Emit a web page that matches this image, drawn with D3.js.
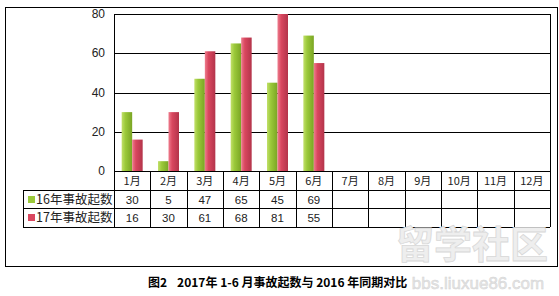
<!DOCTYPE html>
<html>
<head>
<meta charset="utf-8">
<script src="https://cdnjs.cloudflare.com/ajax/libs/d3/7.8.5/d3.min.js"></script>
<style>
  body { margin: 0; background: #fff; }
  svg { display: block; font-family: "Liberation Sans", Arial, sans-serif; }
</style>
</head>
<body>
<svg id="chart" width="559" height="296"></svg>
<script>
// --- data ---
var months = ["1月", "2月", "3月", "4月", "5月", "6月", "7月", "8月", "9月", "10月", "11月", "12月"];
var seriesNames = ["16年事故起数", "17年事故起数"];
var values16 = [30, 5, 47, 65, 45, 69];
var values17 = [16, 30, 61, 68, 81, 55];
var yTicks = [0, 20, 40, 60, 80];
var captionLabel = "图2";
var captionText = "2017年 1-6 月事故起数与 2016 年同期对比";

var colors = [
  { base: "#9bc93a", light: "#c2e06a", dark: "#7aa524" },
  { base: "#d9475f", light: "#ee7d8e", dark: "#b3344a" }
];

var svg = d3.select("#chart");

// outer frame
svg.append("rect")
  .attr("x", 5.5).attr("y", 7.5)
  .attr("width", 552).attr("height", 259)
  .attr("fill", "none").attr("stroke", "#000").attr("stroke-width", 1);

var plotLeft = 114, plotRight = 550, plotTop = 14, plotBottom = 171;

var x = d3.scaleBand().domain(months).range([plotLeft, plotRight]);
var y = d3.scaleLinear().domain([0, 80]).range([plotBottom, plotTop]);
var inner = d3.scaleBand().domain([0, 1]).range([0, 21]);

// gradients
var defs = svg.append("defs");
colors.forEach(function(c, i) {
  var g = defs.append("linearGradient").attr("id", "grad" + i)
    .attr("x1", "0%").attr("x2", "100%").attr("y1", "0%").attr("y2", "0%");
  g.append("stop").attr("offset", "0%").attr("stop-color", c.light);
  g.append("stop").attr("offset", "35%").attr("stop-color", c.base);
  g.append("stop").attr("offset", "100%").attr("stop-color", c.dark);
});

// gridlines
svg.append("g").selectAll("line")
  .data(yTicks.slice(1))
  .join("line")
  .attr("x1", plotLeft).attr("x2", plotRight)
  .attr("y1", d => Math.round(y(d)) + 0.5).attr("y2", d => Math.round(y(d)) + 0.5)
  .attr("stroke", "#000").attr("stroke-width", 1);

// plot left border
svg.append("line")
  .attr("x1", plotLeft + 0.5).attr("x2", plotLeft + 0.5)
  .attr("y1", plotTop).attr("y2", plotBottom)
  .attr("stroke", "#000");

// y labels
svg.append("g").selectAll("text")
  .data(yTicks)
  .join("text")
  .attr("x", 105).attr("y", d => y(d) + 4)
  .attr("text-anchor", "end")
  .attr("font-size", 12).attr("fill", "#222")
  .text(d => d);

// bars
[values16, values17].forEach(function(vals, si) {
  svg.append("g").selectAll("rect")
    .data(vals)
    .join("rect")
    .attr("x", (d, i) => x(months[i]) + (x.bandwidth() - 21) / 2 + inner(si))
    .attr("width", inner.bandwidth())
    .attr("y", d => y(Math.min(d, 80)))
    .attr("height", d => plotBottom - y(Math.min(d, 80)))
    .attr("fill", "url(#grad" + si + ")");
});

// data table
var rowTop = [171, 190, 208, 227];
var tableLeft = 23;
var tg = svg.append("g").attr("stroke", "#000").attr("stroke-width", 1);
// horizontal lines
tg.append("line").attr("x1", plotLeft).attr("x2", plotRight).attr("y1", rowTop[0] + 0.5).attr("y2", rowTop[0] + 0.5);
rowTop.slice(1).forEach(function(r) {
  tg.append("line").attr("x1", tableLeft).attr("x2", plotRight).attr("y1", r + 0.5).attr("y2", r + 0.5);
});
// vertical lines
tg.append("line").attr("x1", tableLeft + 0.5).attr("x2", tableLeft + 0.5).attr("y1", rowTop[1]).attr("y2", rowTop[3]);
months.forEach(function(m) {
  var xx = Math.round(x(m)) + 0.5;
  tg.append("line").attr("x1", xx).attr("x2", xx).attr("y1", rowTop[0]).attr("y2", rowTop[3]);
});
tg.append("line").attr("x1", plotRight + 0.5).attr("x2", plotRight + 0.5).attr("y1", plotTop).attr("y2", rowTop[3]);

// month labels
svg.append("g").selectAll("text")
  .data(months)
  .join("text")
  .attr("x", d => x(d) + x.bandwidth() / 2)
  .attr("y", 185)
  .attr("text-anchor", "middle")
  .attr("font-size", 11).attr("fill", "#222")
  .attr("font-family", "'Noto Sans CJK SC', sans-serif")
  .text(d => d);

// value cells
[values16, values17].forEach(function(vals, si) {
  svg.append("g").selectAll("text")
    .data(vals)
    .join("text")
    .attr("x", (d, i) => x(months[i]) + x.bandwidth() / 2)
    .attr("y", rowTop[si + 1] + 14)
    .attr("text-anchor", "middle")
    .attr("font-size", 11.5).attr("fill", "#222")
    .text(d => d);
});

// legend keys in table
seriesNames.forEach(function(name, si) {
  svg.append("rect")
    .attr("x", 28).attr("y", rowTop[si + 1] + 6)
    .attr("width", 7).attr("height", 7)
    .attr("fill", colors[si].base);
  svg.append("text")
    .attr("x", 36).attr("y", rowTop[si + 1] + 14)
    .attr("font-size", 12.5).attr("fill", "#222")
    .attr("font-family", "'Noto Sans CJK SC', sans-serif")
    .text(name);
});

// watermark
svg.append("text")
  .attr("x", 472).attr("y", 258)
  .attr("text-anchor", "middle")
  .attr("font-size", 38).attr("font-weight", "bold")
  .attr("font-family", "'Noto Sans CJK SC', sans-serif")
  .attr("fill", "#eeeeee").attr("stroke", "#d8d8d8").attr("stroke-width", 0.8)
  .text("留学社区");
svg.append("text")
  .attr("x", 478).attr("y", 289)
  .attr("text-anchor", "middle")
  .attr("font-size", 17)
  .attr("fill", "#e6e6e6").attr("stroke", "#d4d4d4").attr("stroke-width", 0.5)
  .text("bbs.liuxue86.com");

// caption
var cap = svg.append("text")
  .attr("x", 148).attr("y", 287)
  .attr("font-size", 12).attr("font-weight", "bold")
  .attr("font-family", "'Noto Sans CJK SC', sans-serif")
  .attr("fill", "#000");
cap.append("tspan").text(captionLabel);
cap.append("tspan").attr("dx", 10).text(captionText);
</script>
</body>
</html>
